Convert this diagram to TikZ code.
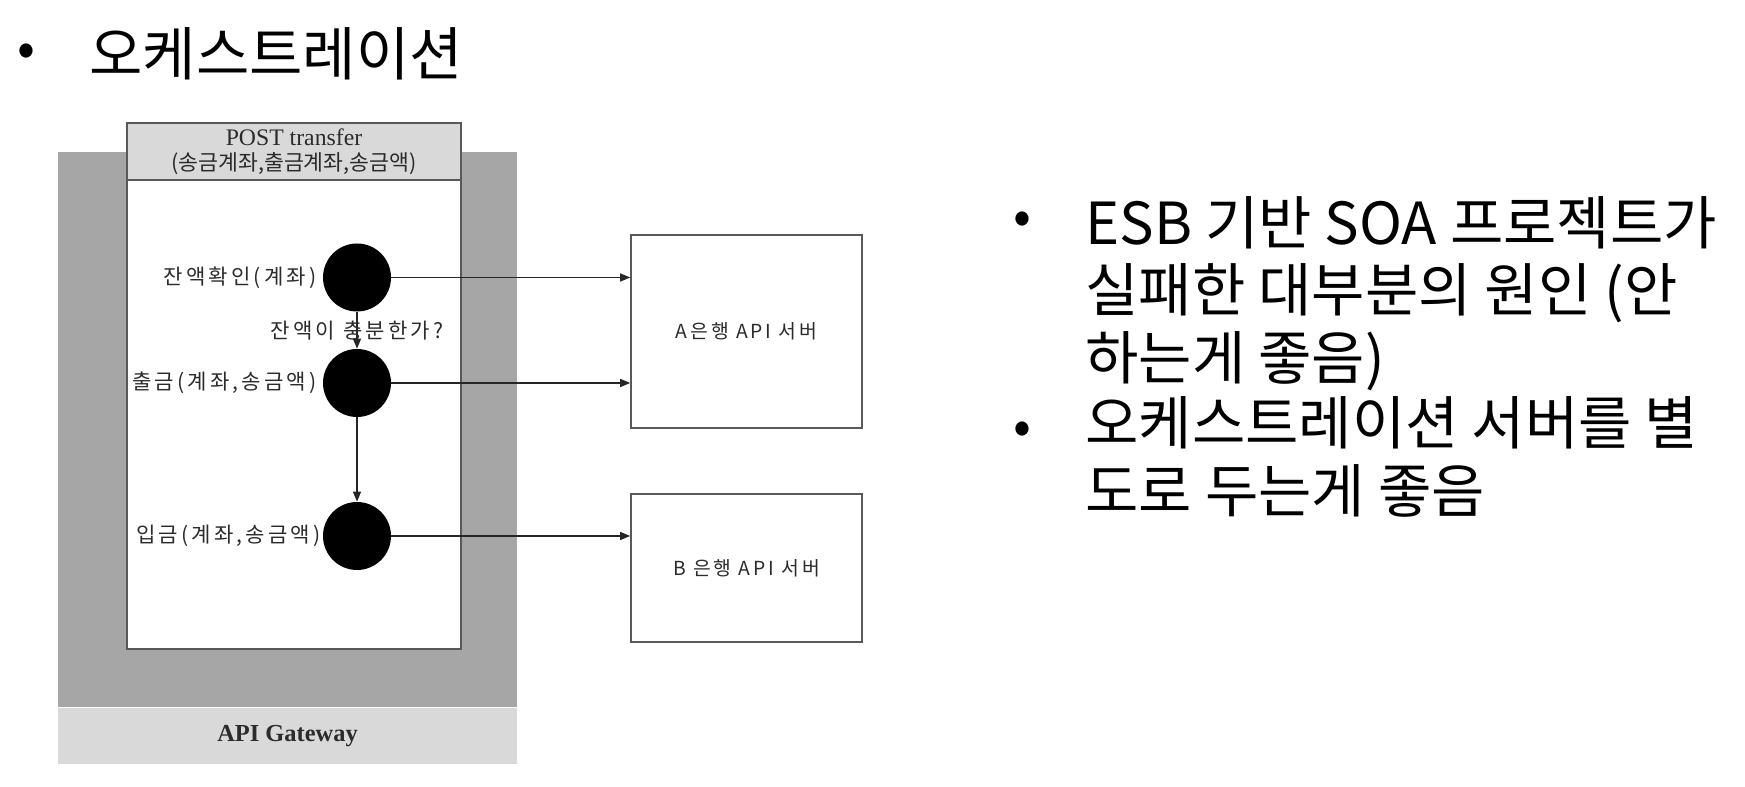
\documentclass[tikz,border=0pt]{standalone}
\usepackage{fontspec}
\setmainfont{Noto Sans CJK KR}
\newfontfamily\labelfont{Noto Sans CJK KR}[LetterSpace=15]
\newfontfamily\headserif{Liberation Serif}
\usetikzlibrary{arrows.meta, positioning, calc}

\definecolor{gatewaygray}{HTML}{A6A6A6}
\definecolor{bandgray}{HTML}{D9D9D9}
\definecolor{linegray}{HTML}{595959}
\definecolor{labelgray}{HTML}{2B2B2B}

\tikzset{
  slidetext/.style={
    font=\fontsize{33}{38.5}\selectfont, anchor=base west,
    inner sep=0pt, align=left
  },
  slidebullet/.style={font=\fontsize{30}{30}\selectfont, inner sep=0pt},
  flowbox/.style={draw=linegray, line width=0.9pt, fill=white},
  serverbox/.style={
    draw=linegray, line width=0.9pt, fill=white, minimum width=4.62cm,
    font=\labelfont\fontsize{11}{13}\selectfont, text=labelgray
  },
  stepdot/.style={circle, fill=black, minimum size=1.36cm, inner sep=0pt},
  steplabel/.style={
    font=\labelfont\fontsize{12}{14}\selectfont, text=labelgray, inner sep=1pt
  },
  flowarrow/.style={-{Triangle[length=2mm,width=1.6mm]}, line width=0.8pt, color=black!85},
}

\begin{document}
\begin{tikzpicture}
  \useasboundingbox (0,0) rectangle (34.9,15.74);

  % === Title ===
  \node[slidebullet] (titlebullet) at (0.52,14.64) {•};
  \node[slidetext] (title) at (1.78,14.23) {오케스트레이션};

  % === API Gateway ===
  \node[fill=gatewaygray, minimum width=9.18cm, minimum height=11.1cm, inner sep=0pt] (gateway) at (5.75,7.15) {};
  \node[fill=bandgray, minimum width=9.18cm, minimum height=1.12cm, inner sep=0pt, anchor=north,
    font=\headserif\bfseries\fontsize{13.9}{15}\selectfont, text=labelgray] (gwband) at (gateway.south) {API Gateway};

  % === Orchestration flow ===
  \node[flowbox, minimum width=6.68cm, minimum height=10.52cm] (flow) at (5.88,8.02) {};
  \node[flowbox, fill=bandgray, anchor=north, minimum width=6.68cm, minimum height=1.14cm,
    align=center, text=labelgray] (posthdr) at (flow.north)
    {{\headserif\fontsize{13.5}{15}\selectfont POST transfer}\\[2pt]
    {\fontsize{12.3}{14}\selectfont (송금계좌,출금계좌,송금액)}};

  \node[stepdot] (chk) at (7.14,10.19) {};
  \node[stepdot] (wdr) at (7.14,8.08) {};
  \node[stepdot] (dep) at (7.14,5.02) {};

  \node[steplabel, left=0.08cm of chk] (chklabel) {잔액확인(계좌)};
  \node[steplabel, left=0.08cm of wdr] (wdrlabel) {출금(계좌,송금액)};
  \node[steplabel, left=0cm of dep] (deplabel) {입금(계좌,송금액)};

  \draw[flowarrow] (chk) -- node[steplabel] (chkquestion) {잔액이 충분한가?} (wdr);
  \draw[flowarrow] (wdr) -- (dep);

  % === Bank servers ===
  \node[serverbox, minimum height=3.86cm] (bankA) at (14.93,9.11) {A은행 API 서버};
  \node[serverbox, minimum height=2.96cm] (bankB) at (14.93,4.38) {B 은행 API 서버};

  \draw[flowarrow] (chk.east) -- (chk.east -| bankA.west);
  \draw[flowarrow] (wdr.east) -- (wdr.east -| bankA.west);
  \draw[flowarrow] (dep.east) -- (dep.east -| bankB.west);

  % === Notes (anchored at the last line) ===
  \node[slidebullet] (esbbullet) at (20.44,11.28) {•};
  \node[slidetext] (esbnote) at (21.7,8.15)
    {ESB 기반 SOA 프로젝트가\\실패한 대부분의 원인 (안\\하는게 좋음)};
  \node[slidebullet] (serverbullet) at (20.44,7.08) {•};
  \node[slidetext] (servernote) at (21.7,5.49)
    {오케스트레이션 서버를 별\\도로 두는게 좋음};
\end{tikzpicture}
\end{document}
